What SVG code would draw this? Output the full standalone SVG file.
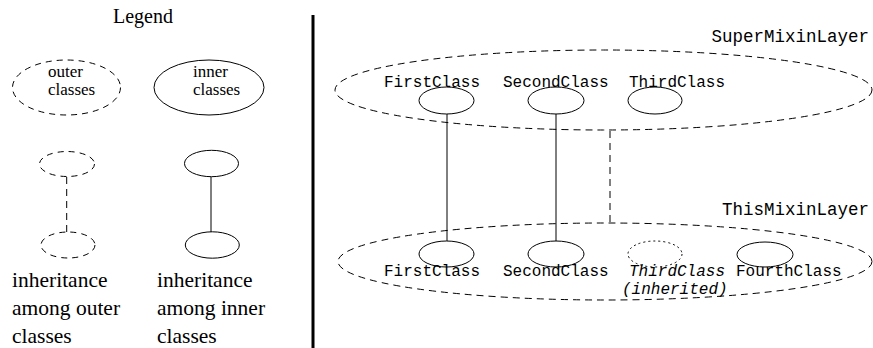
<svg xmlns="http://www.w3.org/2000/svg" width="873" height="348" viewBox="0 0 873 348">
<style>
.bg{fill:#fff}
.sh{fill:none;stroke:#000;stroke-width:1}
.da{stroke-dasharray:7,5}
.do{stroke-dasharray:2,3}
text{fill:#000}
</style>
<rect class="bg" x="0" y="0" width="873" height="348"/>
<g id="legend" font-family="'Liberation Serif', 'DejaVu Serif', serif">
  <text x="113" y="23" font-size="20">Legend</text>
  <g id="legend-outer">
    <ellipse class="sh" cx="66.5" cy="87.5" rx="54" ry="27.5" stroke-dasharray="6,5"/>
    <text x="48" y="77" font-size="17">outer</text>
    <text x="48" y="95" font-size="17">classes</text>
  </g>
  <g id="legend-inner">
    <ellipse class="sh" cx="209" cy="87.5" rx="55" ry="27.5"/>
    <text x="193" y="77" font-size="17">inner</text>
    <text x="193" y="95" font-size="17">classes</text>
  </g>
  <g id="legend-outer-inh">
    <ellipse class="sh" cx="67" cy="164" rx="27.5" ry="12.5" stroke-dasharray="6,5"/>
    <line class="sh da" x1="66.7" y1="177" x2="66.7" y2="232"/>
    <ellipse class="sh" cx="68" cy="245" rx="27" ry="13" stroke-dasharray="6,5"/>
    <text x="12" y="287" font-size="21.5">inheritance</text>
    <text x="12" y="315" font-size="21.5">among outer</text>
    <text x="12" y="343" font-size="21.5">classes</text>
  </g>
  <g id="legend-inner-inh">
    <ellipse class="sh" cx="211.5" cy="163.5" rx="27" ry="13.2"/>
    <line class="sh" x1="211" y1="177" x2="211" y2="232"/>
    <ellipse class="sh" cx="212.3" cy="245" rx="27" ry="13.2"/>
    <text x="157" y="287" font-size="21.5">inheritance</text>
    <text x="157" y="315" font-size="21.5">among inner</text>
    <text x="157" y="343" font-size="21.5">classes</text>
  </g>
</g>
<line x1="313" y1="15" x2="313" y2="348" stroke="#000" stroke-width="3"/>
<g font-family="'Liberation Mono', 'DejaVu Sans Mono', monospace">
<g id="SuperMixinLayer">
  <ellipse class="sh da" cx="603.5" cy="90" rx="268.5" ry="40"/>
  <text x="869" y="42" font-size="17.5" text-anchor="end">SuperMixinLayer</text>
</g>
<g id="ThisMixinLayer">
  <ellipse class="sh da" cx="605" cy="261.5" rx="267" ry="38.5"/>
  <text x="869" y="215" font-size="17.5" text-anchor="end">ThisMixinLayer</text>
</g>
<g id="connectors">
  <line class="sh" x1="447" y1="114" x2="447" y2="241"/>
  <line class="sh" x1="556" y1="114" x2="556" y2="241"/>
  <line class="sh da" x1="610" y1="131" x2="610" y2="222"/>
</g>
<g id="super-first">
  <ellipse class="sh" cx="446.5" cy="100.5" rx="27.5" ry="13.5"/>
  <text x="384" y="87" font-size="16">FirstClass</text>
</g>
<g id="super-second">
  <ellipse class="sh" cx="556" cy="100.5" rx="28" ry="13.5"/>
  <text x="503" y="87" font-size="16">SecondClass</text>
</g>
<g id="super-third">
  <ellipse class="sh" cx="655" cy="100.5" rx="27" ry="13.5"/>
  <text x="629" y="87" font-size="16">ThirdClass</text>
</g>
<g id="this-first">
  <ellipse class="sh" cx="446.5" cy="254" rx="27.5" ry="13"/>
  <text x="384" y="276" font-size="16">FirstClass</text>
</g>
<g id="this-second">
  <ellipse class="sh" cx="556" cy="254" rx="28" ry="13"/>
  <text x="503" y="276" font-size="16">SecondClass</text>
</g>
<g id="this-third">
  <ellipse class="sh do" cx="655" cy="254" rx="27" ry="13"/>
  <text x="629" y="276" font-size="16" font-style="italic">ThirdClass</text>
  <text x="622" y="294" font-size="16" font-style="italic">(inherited)</text>
</g>
<g id="this-fourth">
  <ellipse class="sh" cx="765" cy="254.5" rx="28" ry="12.5"/>
  <text x="736" y="276" font-size="16">FourthClass</text>
</g>
</g>
</svg>
